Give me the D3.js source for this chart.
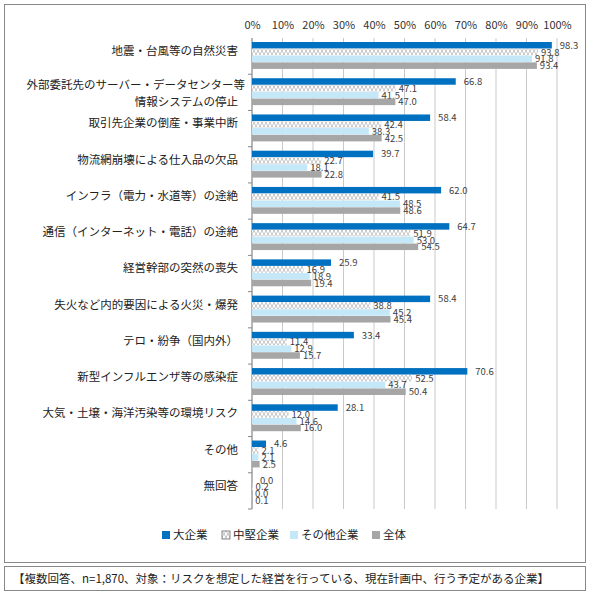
<!DOCTYPE html><html><head><meta charset="utf-8"><script src="https://cdn.jsdelivr.net/npm/d3@7"></script>
<style>body{margin:0;background:#fff}text{font-family:"Noto Sans CJK JP",sans-serif}</style></head><body>
<svg id="c" width="590" height="598"></svg>
<script>
const categories=["地震・台風等の自然災害","外部委託先のサーバー・データセンター等\n情報システムの停止","取引先企業の倒産・事業中断","物流網崩壊による仕入品の欠品","インフラ（電力・水道等）の途絶","通信（インターネット・電話）の途絶","経営幹部の突然の喪失","失火など内的要因による火災・爆発","テロ・紛争（国内外）","新型インフルエンザ等の感染症","大気・土壌・海洋汚染等の環境リスク","その他","無回答"];
const seriesNames=["大企業","中堅企業","その他企業","全体"];
const large=[98.3,66.8,58.4,39.7,62.0,64.7,25.9,58.4,33.4,70.6,28.1,4.6,0.0];
const mid=[93.8,47.1,42.4,22.7,41.5,51.9,16.9,38.8,11.4,52.5,12.0,2.1,0.2];
const other=[91.8,41.5,38.3,18.1,48.5,53.0,18.9,45.2,12.9,43.7,14.6,2.1,0.0];
const total=[93.4,47.0,42.5,22.8,48.6,54.5,19.4,45.4,15.7,50.4,16.0,2.5,0.1];
const ticks=[0,10,20,30,40,50,60,70,80,90,100];
const series=[large,mid,other,total];
const svg=d3.select("#c");
const defs=svg.append("defs");
const p=defs.append("pattern").attr("id","hatch").attr("width",8).attr("height",6).attr("patternUnits","userSpaceOnUse");
p.append("rect").attr("width",8).attr("height",6).attr("fill","#fff");
p.append("path").attr("d","M0,0L4,6L8,0M0,6L4,0L8,6").attr("stroke","#aaa").attr("stroke-width",0.7).attr("fill","none");
const fills=["#0070c0","url(#hatch)","#c5e8f9","#a6a6a6"];
svg.append("rect").attr("x",4.5).attr("y",4.5).attr("width",581).attr("height",558).attr("fill","none").attr("stroke","#888");
svg.append("rect").attr("x",4.5).attr("y",566.5).attr("width",581).attr("height",24).attr("fill","none").attr("stroke","#888");
const x=d3.scaleLinear().domain([0,100]).range([252,557]);
const y=d3.scaleBand().domain(d3.range(categories.length)).range([38,509]);
const g=svg.append("g");
g.selectAll(".gl").data(ticks).join("line").attr("x1",d=>x(d)).attr("x2",d=>x(d)).attr("y1",38).attr("y2",509).attr("stroke","#bbb").attr("stroke-width",0.8);
svg.append("g").attr("transform","translate(0,38)").call(d3.axisTop(x).tickValues(ticks).tickFormat(d=>d+"%").tickSize(0)).call(a=>{a.select(".domain").remove();a.selectAll("text").attr("font-size",11).attr("fill","#333").attr("dy",-6);});
svg.append("line").attr("x1",252).attr("x2",252).attr("y1",38).attr("y2",509).attr("stroke","#888");
categories.forEach((c,i)=>svg.append("line").attr("x1",248).attr("x2",252).attr("y1",y(i)+y.bandwidth()).attr("y2",y(i)+y.bandwidth()).attr("stroke","#888"));
const bh=6.5,gap=0.3;
series.forEach((s,k)=>{
 svg.append("g").selectAll("rect").data(s).join("rect").attr("x",x(0)).attr("y",(d,i)=>y(i)+4+k*(bh+gap)).attr("width",d=>x(d)-x(0)).attr("height",bh).attr("fill",fills[k]);
 svg.append("g").selectAll("text").data(s).join("text").attr("x",d=>x(d)+(k==0?8:3)).attr("y",(d,i)=>y(i)+4+k*(bh+gap)+bh/2+3.5).attr("font-size",9.5).attr("fill","#404040").text(d=>d.toFixed(1));
});
categories.forEach((c,i)=>{
 const lines=c.split("\n");
 const t=svg.append("text").attr("text-anchor","end").attr("font-size",11.5).attr("fill","#222");
 lines.forEach((l,j)=>t.append("tspan").attr("x",j==0&&lines.length>1?245:238).attr("y",y(i)+(lines.length>1?15+j*17:17)).text(l));
});
const lg=svg.append("g");
const lx=[162,222,290,372];
seriesNames.forEach((n,k)=>{
 lg.append("rect").attr("x",lx[k]).attr("y",531).attr("width",8).attr("height",8).attr("fill",fills[k]).attr("stroke",k==1?"#888":"none");
 lg.append("text").attr("x",lx[k]+11).attr("y",539).attr("font-size",11.5).attr("fill","#222").text(n);
});
svg.append("text").attr("x",13).attr("y",583).attr("font-size",11.5).attr("fill","#222").text("【複数回答、n=1,870、対象：リスクを想定した経営を行っている、現在計画中、行う予定がある企業】");
</script></body></html>
